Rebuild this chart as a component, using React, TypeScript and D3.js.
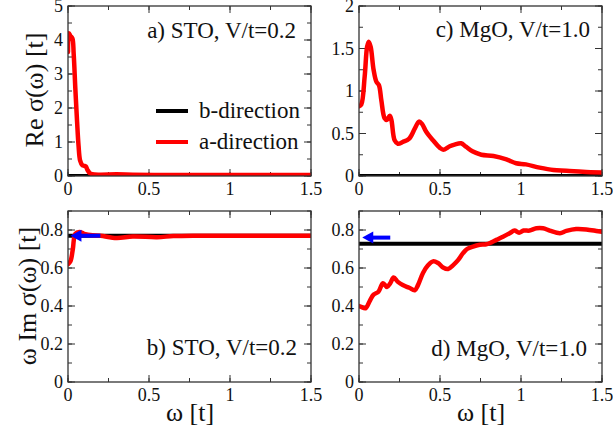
import React from "react";
import * as d3 from "d3";

// ---------- data ----------
const X_TICKS = [0, 0.5, 1, 1.5];

// panel a) STO, V/t=0.2 : Re sigma
const aX = [0, 0.006, 0.015, 0.027, 0.035, 0.045, 0.056, 0.065, 0.075, 0.088, 0.1, 0.11, 0.12, 0.135, 0.15, 0.2, 0.3, 0.4, 0.6, 0.8, 1.0, 1.2, 1.5];
const aRed = [3.65, 4.2, 4.12, 4.05, 3.6, 2.6, 1.6, 0.9, 0.45, 0.32, 0.3, 0.28, 0.18, 0.08, 0.05, 0.04, 0.05, 0.04, 0.03, 0.03, 0.03, 0.03, 0.03];
const aBlack = 0;

// panel c) MgO, V/t=1.0 : Re sigma
const cX = [0, 0.014, 0.035, 0.05, 0.06, 0.072, 0.09, 0.107, 0.123, 0.138, 0.158, 0.173, 0.19, 0.2, 0.22, 0.24, 0.27, 0.31, 0.345, 0.37, 0.39, 0.415, 0.457, 0.5, 0.52, 0.56, 0.59, 0.63, 0.66, 0.7, 0.755, 0.83, 0.91, 0.97, 1.03, 1.115, 1.2, 1.28, 1.38, 1.5];
const cRed = [0.82, 0.84, 1.17, 1.52, 1.58, 1.52, 1.25, 1.11, 1.07, 0.89, 0.68, 0.66, 0.71, 0.66, 0.42, 0.38, 0.4, 0.44, 0.56, 0.64, 0.61, 0.52, 0.42, 0.33, 0.31, 0.35, 0.37, 0.385, 0.345, 0.29, 0.25, 0.235, 0.195, 0.15, 0.137, 0.098, 0.07, 0.063, 0.05, 0.04];
const cBlack = 0;

// panel b) STO, V/t=0.2 : omega Im sigma
const bX = [0, 0.015, 0.03, 0.045, 0.07, 0.1, 0.15, 0.2, 0.3, 0.4, 0.55, 0.65, 0.8, 1.0, 1.2, 1.5];
const bRed = [0.62, 0.635, 0.7, 0.78, 0.79, 0.78, 0.772, 0.77, 0.758, 0.766, 0.762, 0.768, 0.77, 0.77, 0.77, 0.77];
const bBlack = 0.77;
const bArrow = { from: 0.2, to: 0.015, y: 0.77 };

// panel d) MgO, V/t=1.0 : omega Im sigma
const dX = [0, 0.014, 0.04, 0.066, 0.09, 0.12, 0.148, 0.173, 0.193, 0.214, 0.24, 0.27, 0.31, 0.344, 0.364, 0.395, 0.426, 0.457, 0.488, 0.519, 0.55, 0.58, 0.61, 0.642, 0.667, 0.704, 0.745, 0.786, 0.817, 0.848, 0.889, 0.93, 0.96, 0.988, 1.016, 1.053, 1.095, 1.136, 1.177, 1.24, 1.28, 1.34, 1.403, 1.465, 1.5];
const dRed = [0.4, 0.395, 0.388, 0.426, 0.46, 0.475, 0.52, 0.5, 0.52, 0.55, 0.527, 0.51, 0.496, 0.483, 0.51, 0.574, 0.614, 0.635, 0.626, 0.603, 0.595, 0.614, 0.64, 0.678, 0.7, 0.713, 0.722, 0.725, 0.735, 0.748, 0.765, 0.783, 0.797, 0.786, 0.797, 0.797, 0.809, 0.809, 0.797, 0.783, 0.795, 0.805, 0.803, 0.795, 0.79];
const dBlack = 0.727;
const dArrow = { from: 0.193, to: 0.02, y: 0.76 };

const yTicksA = [0, 1, 2, 3, 4, 5];
const yTicksC = [0, 0.5, 1, 1.5, 2];
const yTicksBD = [0, 0.2, 0.4, 0.6, 0.8];

const legendLabels = ["b-direction", "a-direction"];

const FONT = "Liberation Serif, DejaVu Serif, Times New Roman, serif";
const fstyle = (size: number): React.CSSProperties => ({ fontFamily: FONT, fontSize: size + "px" });

type PanelProps = {
  x0: number; x1: number; y0: number; y1: number;
  yMax: number; yTicks: number[]; yMinor: number;
  xs: number[]; red: number[]; black: number;
  arrow?: { from: number; to: number; y: number };
  note: string; noteX: number; noteY: number;
};

function Panel(p: PanelProps) {
  const x = d3.scaleLinear().domain([0, 1.5]).range([p.x0, p.x1]);
  const y = d3.scaleLinear().domain([0, p.yMax]).range([p.y1, p.y0]);
  const line = d3
    .line<number>()
    .x((_, i) => x(p.xs[i]))
    .y((v) => y(v))
    .curve(d3.curveCatmullRom.alpha(0.5));
  const xMinor = d3.range(0, 1.5 + 1e-9, 0.25);
  const yMinor = d3.range(0, p.yMax + 1e-9, p.yMinor);
  const maj = 7, min = 4;
  const tickStroke = "#333";
  return (
    <g>
      <defs>
        <clipPath id={`clip${p.x0}${p.y0}`}>
          <rect x={p.x0} y={p.y0 - 3} width={p.x1 - p.x0} height={p.y1 - p.y0 + 3} />
        </clipPath>
      </defs>
      {xMinor.map((t, i) => (
        <g key={"xm" + i} stroke={tickStroke} strokeWidth={1}>
          <line x1={x(t)} x2={x(t)} y1={p.y1} y2={p.y1 - min} />
          <line x1={x(t)} x2={x(t)} y1={p.y0} y2={p.y0 + min} />
        </g>
      ))}
      {yMinor.map((t, i) => (
        <g key={"ym" + i} stroke={tickStroke} strokeWidth={1}>
          <line x1={p.x0} x2={p.x0 + min} y1={y(t)} y2={y(t)} />
          <line x1={p.x1} x2={p.x1 - min} y1={y(t)} y2={y(t)} />
        </g>
      ))}
      {X_TICKS.map((t, i) => (
        <g key={"xM" + i} stroke={tickStroke} strokeWidth={1}>
          <line x1={x(t)} x2={x(t)} y1={p.y1} y2={p.y1 - maj} />
          <line x1={x(t)} x2={x(t)} y1={p.y0} y2={p.y0 + maj} />
        </g>
      ))}
      {p.yTicks.map((t, i) => (
        <g key={"yM" + i} stroke={tickStroke} strokeWidth={1}>
          <line x1={p.x0} x2={p.x0 + maj} y1={y(t)} y2={y(t)} />
          <line x1={p.x1} x2={p.x1 - maj} y1={y(t)} y2={y(t)} />
        </g>
      ))}
      {X_TICKS.map((t, i) => (
        <text key={"xl" + i} x={x(t)} y={p.y1 + 19} textAnchor="middle" style={fstyle(18)} fill="#111">
          {String(t)}
        </text>
      ))}
      {p.yTicks.map((t, i) => (
        <text key={"yl" + i} x={p.x0 - 5} y={y(t) + 6} textAnchor="end" style={fstyle(18)} fill="#111">
          {String(t)}
        </text>
      ))}
      <g clipPath={`url(#clip${p.x0}${p.y0})`}>
        <line x1={x(0)} x2={x(1.5)} y1={y(p.black)} y2={y(p.black)} stroke="#000" strokeWidth={4} />
        <path d={line(p.red) || ""} fill="none" stroke="#ff0000" strokeWidth={4.5} strokeLinejoin="round" strokeLinecap="round" />
      </g>
      {p.arrow && (
        <g>
          <line x1={x(p.arrow.from)} x2={x(p.arrow.to) + 8} y1={y(p.arrow.y)} y2={y(p.arrow.y)} stroke="#0000ff" strokeWidth={4} />
          <path
            d={`M${x(p.arrow.to)},${y(p.arrow.y)} L${x(p.arrow.to) + 11},${y(p.arrow.y) - 6} L${x(p.arrow.to) + 11},${y(p.arrow.y) + 6} Z`}
            fill="#0000ff"
          />
        </g>
      )}
      <rect x={p.x0} y={p.y0} width={p.x1 - p.x0} height={p.y1 - p.y0} fill="none" stroke="#333" strokeWidth={1.3} />
      <text x={p.noteX} y={p.noteY} textAnchor="end" style={fstyle(23)} fill="#111">
        {p.note}
      </text>
    </g>
  );
}

export default function App() {
  return (
    <svg width={613} height={433} style={{ position: "absolute", left: 0, top: 0, background: "#fff" }}>
      <rect width={613} height={433} fill="#fff" />
      <Panel x0={68} x1={311} y0={6} y1={176} yMax={5} yTicks={yTicksA} yMinor={0.5}
        xs={aX} red={aRed} black={aBlack} note="a) STO, V/t=0.2" noteX={296} noteY={38} />
      <Panel x0={359} x1={602} y0={6} y1={176} yMax={2} yTicks={yTicksC} yMinor={0.25}
        xs={cX} red={cRed} black={cBlack} note="c) MgO, V/t=1.0" noteX={590} noteY={37} />
      <Panel x0={68} x1={311} y0={211} y1={382} yMax={0.9} yTicks={yTicksBD} yMinor={0.1}
        xs={bX} red={bRed} black={bBlack} arrow={bArrow} note="b) STO, V/t=0.2" noteX={297} noteY={355} />
      <Panel x0={359} x1={602} y0={211} y1={382} yMax={0.9} yTicks={yTicksBD} yMinor={0.1}
        xs={dX} red={dRed} black={dBlack} arrow={dArrow} note="d) MgO, V/t=1.0" noteX={587} noteY={356} />
      <g>
        <line x1={156} x2={188} y1={111} y2={111} stroke="#000" strokeWidth={4} />
        <text x={199} y={118} style={fstyle(23)} fill="#111">{legendLabels[0]}</text>
        <line x1={156} x2={188} y1={142} y2={142} stroke="#ff0000" strokeWidth={4} />
        <text x={199} y={149} style={fstyle(23)} fill="#111">{legendLabels[1]}</text>
      </g>
      <text transform="translate(43,90) rotate(-90)" textAnchor="middle" style={fstyle(26)} fill="#111">
        Re σ(ω) [t]
      </text>
      <text transform="translate(36,296) rotate(-90)" textAnchor="middle" style={fstyle(26)} fill="#111">
        ω Im σ(ω) [t]
      </text>
      <text x={190} y={421} textAnchor="middle" style={fstyle(26)} fill="#111">ω [t]</text>
      <text x={481} y={421} textAnchor="middle" style={fstyle(26)} fill="#111">ω [t]</text>
    </svg>
  );
}
